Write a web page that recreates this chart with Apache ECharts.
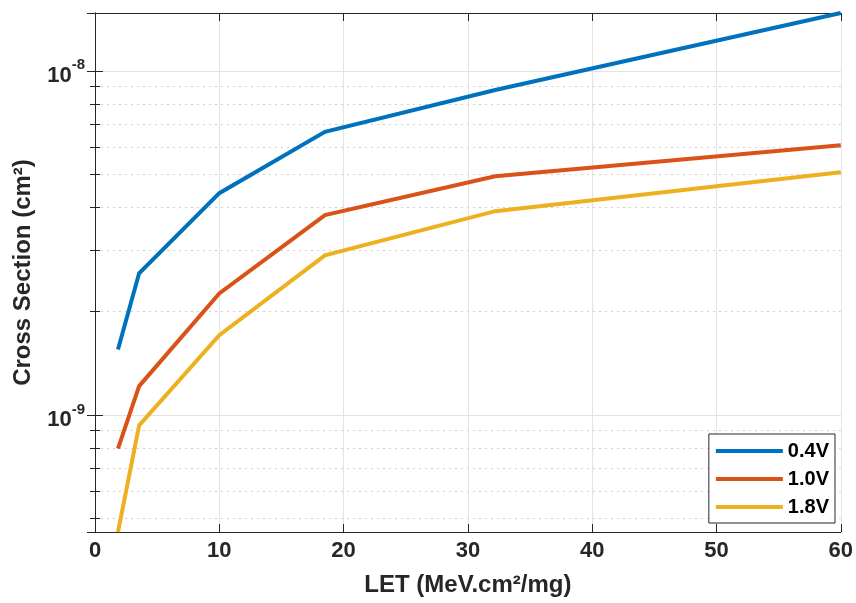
<!DOCTYPE html>
<html>
<head>
<meta charset="utf-8">
<script src="https://cdn.jsdelivr.net/npm/echarts@6/dist/echarts.min.js"></script>
<style>
  html, body { margin: 0; padding: 0; background: #fff; }
  #chart { width: 856px; height: 603px; }
</style>
</head>
<body>
<div id="chart"></div>
<script>
// LET values (MeV.cm2/mg) and measured cross sections (cm2)
const letValues = [1.85, 3.55, 10, 18.5, 32.2, 60];
const series04 = [1.55e-9, 2.58e-9, 4.41e-9, 6.65e-9, 8.79e-9, 1.472e-8];
const series10 = [7.98e-10, 1.213e-9, 2.254e-9, 3.81e-9, 4.94e-9, 6.08e-9];
const series18 = [4.57e-10, 9.33e-10, 1.706e-9, 2.91e-9, 3.91e-9, 5.07e-9];
const seriesNames = ['0.4V', '1.0V', '1.8V'];
const colors = ['#0072BD', '#D95319', '#EDB120'];

const yMin = 4.57e-10;
const yMax = 1.472e-8;
const axisColor = '#262626';
const font = '"Liberation Sans", Arial, Helvetica, sans-serif';

const pairs = vals => letValues.map((x, i) => [x, vals[i]]);

// only label the decades, 10^n
function decadeLabel(v) {
    const e = Math.log10(v);
    if (Math.abs(e - Math.round(e)) > 1e-6) return '';
    return '{b|10}{s|' + Math.round(e) + '}';
}

const chart = echarts.init(document.getElementById('chart'), null, { renderer: 'canvas' });

const logAxisBase = {
    type: 'log',
    logBase: 10,
    min: yMin,
    max: yMax,
    axisLine: { show: true, lineStyle: { color: axisColor, width: 1 } },
    axisTick: { show: true, inside: true, length: 8, lineStyle: { color: axisColor } },
    minorTick: { show: true, splitNumber: 9, length: 5, lineStyle: { color: axisColor } }
};

const option = {
    animation: false,
    backgroundColor: '#fff',
    color: colors,
    textStyle: { fontFamily: font },
    grid: { left: 95, right: 15, top: 13, bottom: 71, containLabel: false },
    legend: {
        orient: 'vertical',
        right: 21,
        bottom: 80,
        data: seriesNames,
        icon: 'rect',
        itemWidth: 67,
        itemHeight: 4,
        itemGap: 8,
        padding: [7, 6, 6, 7],
        backgroundColor: '#fff',
        borderColor: axisColor,
        borderWidth: 1,
        borderRadius: 0,
        textStyle: { fontFamily: font, fontSize: 20, fontWeight: 'bold', color: '#000' }
    },
    xAxis: [{
        type: 'value',
        min: 0,
        max: 60,
        interval: 10,
        name: 'LET (MeV.cm²/mg)',
        nameLocation: 'middle',
        nameGap: 41,
        nameTextStyle: { fontFamily: font, fontSize: 24, fontWeight: 'bold', color: axisColor },
        axisLine: { show: true, onZero: false, lineStyle: { color: axisColor, width: 1 } },
        axisTick: { show: true, inside: true, length: 8, lineStyle: { color: axisColor } },
        axisLabel: { fontFamily: font, fontSize: 22, fontWeight: 'bold', color: axisColor, margin: 8 },
        splitLine: { show: true, lineStyle: { color: '#e2e2e2', width: 1 } }
    }, {
        type: 'value',
        position: 'top',
        min: 0,
        max: 60,
        interval: 10,
        axisLine: { show: true, onZero: false, lineStyle: { color: axisColor, width: 1 } },
        axisTick: { show: true, inside: true, length: 8, lineStyle: { color: axisColor } },
        axisLabel: { show: false },
        splitLine: { show: false }
    }],
    yAxis: [Object.assign({}, logAxisBase, {
        position: 'left',
        name: 'Cross Section (cm²)',
        nameLocation: 'middle',
        nameGap: 60,
        nameTextStyle: { fontFamily: font, fontSize: 24, fontWeight: 'bold', color: axisColor },
        axisLabel: {
            margin: 10,
            formatter: decadeLabel,
            rich: {
                b: { fontFamily: font, fontSize: 22, fontWeight: 'bold', color: axisColor, verticalAlign: 'bottom', lineHeight: 32 },
                s: { fontFamily: font, fontSize: 15, fontWeight: 'bold', color: axisColor, verticalAlign: 'bottom', lineHeight: 32, padding: [0, 0, 14, 0] }
            }
        },
        splitLine: { show: true, lineStyle: { color: '#e2e2e2', width: 1 } },
        minorSplitLine: { show: true, lineStyle: { color: '#cfcfcf', width: 1, type: [2, 4] } }
    }), Object.assign({}, logAxisBase, {
        position: 'right',
        axisLabel: { show: false },
        splitLine: { show: false },
        minorSplitLine: { show: false }
    })],
    series: [
        { name: seriesNames[0], type: 'line', data: pairs(series04) },
        { name: seriesNames[1], type: 'line', data: pairs(series10) },
        { name: seriesNames[2], type: 'line', data: pairs(series18) }
    ].map((s, i) => Object.assign(s, {
        xAxisIndex: 0,
        yAxisIndex: 0,
        showSymbol: false,
        symbol: 'none',
        clip: true,
        lineStyle: { width: 4, color: colors[i], join: 'miter' },
        itemStyle: { color: colors[i] },
        z: 3 + i
    }))
};

chart.setOption(option);
</script>
</body>
</html>
